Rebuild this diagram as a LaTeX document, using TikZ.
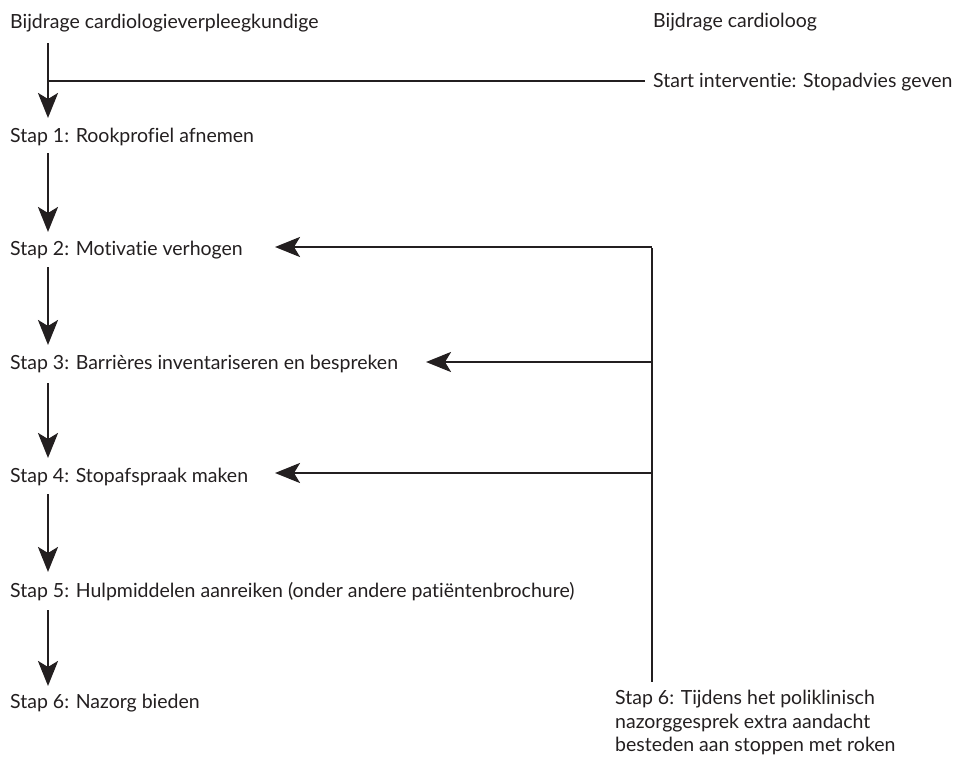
\documentclass[tikz,border=0pt]{standalone}
\usepackage{fontspec}
\setmainfont{Lato}[Ligatures={NoCommon}]
\usetikzlibrary{arrows.meta}
\definecolor{ink}{HTML}{231F20}
\tikzset{
  lbl/.style={anchor=base west, inner sep=0pt, text=ink, font=\fontsize{19.5}{23.5}\selectfont},
  arr/.style={draw=ink, line width=2.8pt, -{Stealth[length=25pt,width=20pt,inset=6pt]}},
  ln/.style={draw=ink, line width=2.8pt}
}
\begin{document}
\begin{tikzpicture}[x=1pt,y=-1pt]
\useasboundingbox (0,0) rectangle (959,763);
% headers
\node[lbl] (hl) at (10,28) {Bijdrage cardiologieverpleegkundige};
\node[lbl] (hr) at (653,27) {Bijdrage cardioloog};
\node[lbl] (start) at (653,87) {Start interventie: Stopadvies geven};
% steps
\node[lbl] (s1) at (10,142) {Stap 1: Rookprofiel afnemen};
\node[lbl] (s2) at (10,255) {Stap 2: Motivatie verhogen};
\node[lbl] (s3) at (10,369) {Stap 3: Barrières inventariseren en bespreken};
\node[lbl] (s4) at (10,482) {Stap 4: Stopafspraak maken};
\node[lbl] (s5) at (10,597) {Stap 5: Hulpmiddelen aanreiken (onder andere patiëntenbrochure)};
\node[lbl] (s6) at (10,708) {Stap 6: Nazorg bieden};
\node[lbl, align=left, anchor=north west] (r6) at (615,690) {Stap 6: Tijdens het poliklinisch\\nazorggesprek extra aandacht\\besteden aan stoppen met roken};
% coordinates
\coordinate (a0s) at (48,43);  \coordinate (a0e) at (48,118);
\coordinate (j0) at (48,81);   \coordinate (j0e) at (645,81);
\coordinate (a1s) at (48,153); \coordinate (a1e) at (48,232);
\coordinate (a2s) at (48,267); \coordinate (a2e) at (48,345);
\coordinate (a3s) at (48,383); \coordinate (a3e) at (48,458);
\coordinate (a4s) at (48,494); \coordinate (a4e) at (48,572);
\coordinate (a5s) at (48,610); \coordinate (a5e) at (48,686);
\coordinate (rt) at (652,247); \coordinate (rb) at (652,682);
\coordinate (r3) at (652,362); \coordinate (r4) at (652,473);
\coordinate (t2) at (275,247); \coordinate (t3) at (426,362); \coordinate (t4) at (275,473);
% left chain
\draw[arr] (a0s) -- (a0e);
\draw[ln] (j0) -- (j0e);
\draw[arr] (a1s) -- (a1e);
\draw[arr] (a2s) -- (a2e);
\draw[arr] (a3s) -- (a3e);
\draw[arr] (a4s) -- (a4e);
\draw[arr] (a5s) -- (a5e);
% right
\draw[ln] ([yshift=-1.4pt]rt) -- (rb);
\draw[arr] (rt) -- (t2);
\draw[arr] (r3) -- (t3);
\draw[arr] (r4) -- (t4);
\end{tikzpicture}
\end{document}
